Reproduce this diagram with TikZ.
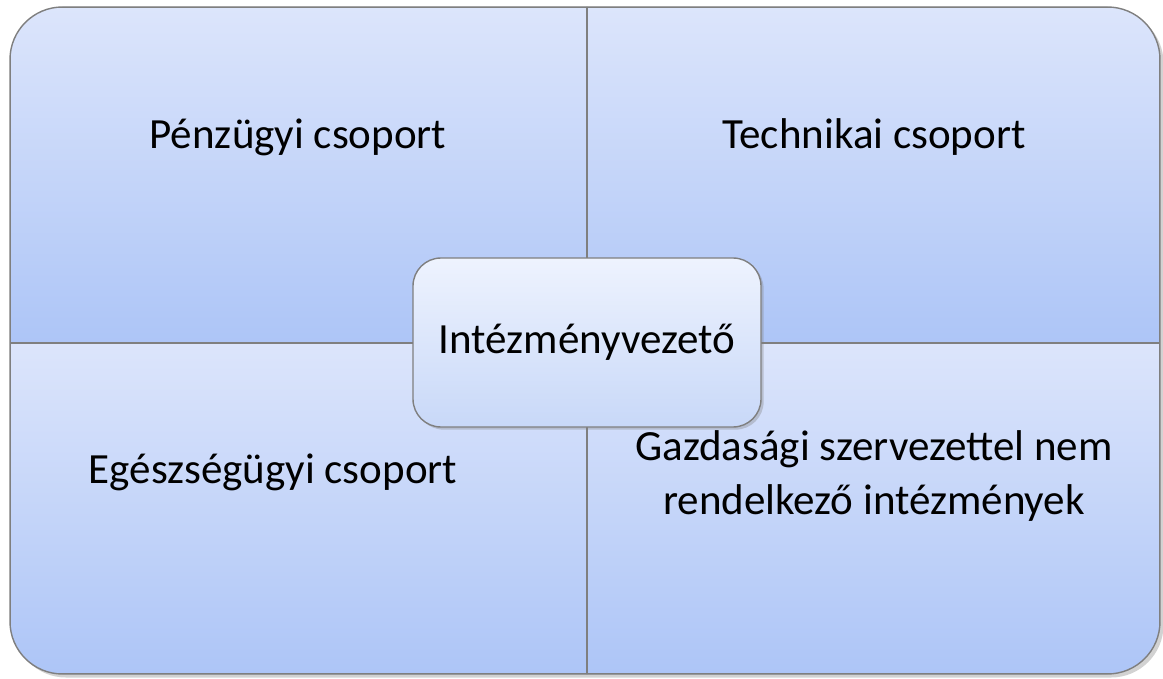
\documentclass[tikz,border=0pt]{standalone}
\usepackage{fontspec}
\setmainfont{Carlito}
\usetikzlibrary{shadows}
\definecolor{quadtop}{HTML}{DCE5FB}
\definecolor{quadbot}{HTML}{ADC5F7}
\definecolor{hubtop}{HTML}{EEF3FE}
\definecolor{hubbot}{HTML}{C8D8F8}
\definecolor{rimgray}{HTML}{7F7F7F}
\tikzset{
	quad/.style={top color=quadtop, bottom color=quadbot, draw=rimgray, line width=0.8pt},
	label/.style={font=\fontsize{24.5}{31}\selectfont, align=center, text=black},
}

\begin{document}
\begin{tikzpicture}[x=0.02cm, y=-0.02cm]
			%%%%% START %%%%%
			\useasboundingbox[fill=white] (0, 0) rectangle (1163, 679);
			
			\fill[white, drop shadow={opacity=0.35, shadow xshift=2pt, shadow yshift=-2pt}, rounded corners=1.05cm] (10, 7) rectangle (1160, 674);
			
			\begin{scope}
				\clip[rounded corners=1.05cm] (10, 7) rectangle (1160, 674);
				\path[quad] (10, 7) rectangle (587, 343);
				\path[quad] (587, 7) rectangle (1160, 343);
				\path[quad] (10, 343) rectangle (587, 674);
				\path[quad] (587, 343) rectangle (1160, 674);
			\end{scope}
			\draw[rimgray, line width=0.8pt, rounded corners=1.05cm] (10, 7) rectangle (1160, 674);
			
			\node[label] (penz) at (298, 137) {Pénzügyi csoport};
			\node[label] (tech) at (874, 137) {Technikai csoport};
			\node[label] (egesz) at (273, 472) {Egészségügyi csoport};
			\node[label] (gazd) at (874, 476) {Gazdasági szervezettel nem\\rendelkező intézmények};
			
			\node[label, minimum width=348*0.02cm, minimum height=169*0.02cm, rounded corners=0.56cm,
				top color=hubtop, bottom color=hubbot, draw=rimgray, line width=0.8pt,
				drop shadow={opacity=0.35, shadow xshift=1.5pt, shadow yshift=-1.5pt}] (hub) at (587, 342.5) {Intézményvezető};
			
			%%%%% END %%%%%
\end{tikzpicture}
\end{document}
